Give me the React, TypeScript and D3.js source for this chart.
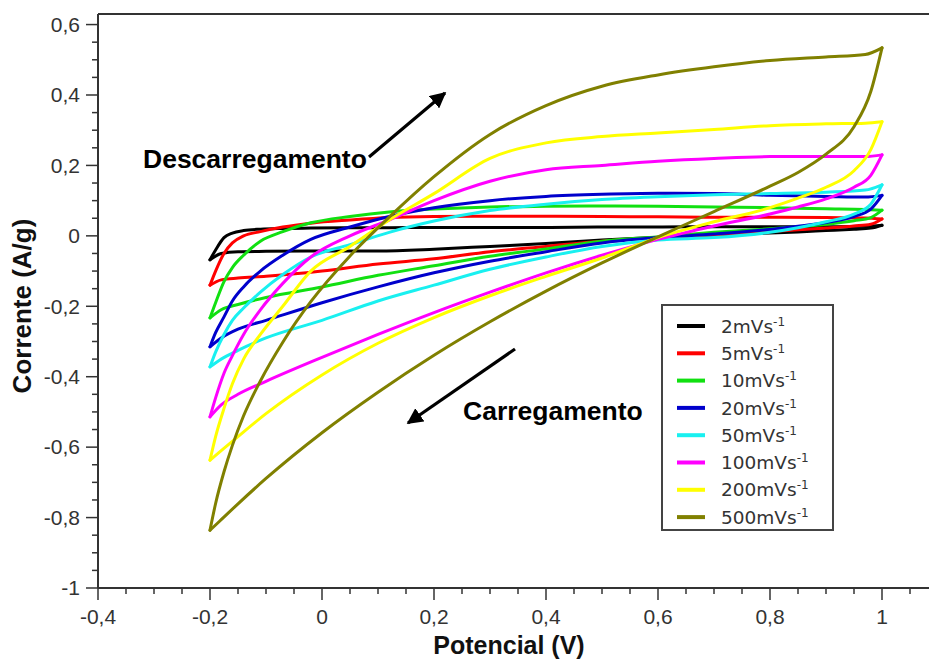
import React from 'react';
import * as d3 from 'd3';

// potentials (V) sampled along each branch
const potUp = [-0.2, -0.19, -0.175, -0.16, -0.14, -0.11, -0.07, -0.02, 0.05, 0.12, 0.2, 0.3, 0.4, 0.5, 0.6, 0.7, 0.8, 0.9, 0.97, 1.0];
const potDown = [-0.2, -0.18, -0.15, -0.1, 0, 0.1, 0.2, 0.3, 0.4, 0.5, 0.6, 0.7, 0.8, 0.85, 0.9, 0.95, 0.98, 1.0];

const scanRates = ['2', '5', '10', '20', '50', '100', '200', '500'];
const colors = ['#000000', '#ff0000', '#11e011', '#0000cc', '#19f0f0', '#ff00ff', '#ffff00', '#808000'];

// discharge (upper) branches, A/g
const up2 = [-0.068, -0.04, -0.005, 0.008, 0.015, 0.019, 0.021, 0.022, 0.023, 0.023, 0.024, 0.024, 0.024, 0.025, 0.025, 0.026, 0.026, 0.026, 0.027, 0.03];
const up5 = [-0.14, -0.1, -0.05, -0.02, 0.0, 0.012, 0.025, 0.036, 0.045, 0.052, 0.055, 0.056, 0.056, 0.055, 0.054, 0.053, 0.053, 0.052, 0.051, 0.048];
const up10 = [-0.233, -0.19, -0.13, -0.09, -0.055, -0.015, 0.012, 0.037, 0.055, 0.068, 0.076, 0.082, 0.084, 0.085, 0.084, 0.082, 0.08, 0.077, 0.075, 0.073];
const up20 = [-0.315, -0.275, -0.23, -0.185, -0.145, -0.1, -0.055, -0.01, 0.025, 0.055, 0.08, 0.1, 0.112, 0.118, 0.121, 0.12, 0.115, 0.112, 0.11, 0.115];
const up50 = [-0.372, -0.33, -0.28, -0.24, -0.205, -0.16, -0.11, -0.06, -0.025, 0.01, 0.042, 0.072, 0.09, 0.103, 0.111, 0.117, 0.12, 0.124, 0.13, 0.145];
const up100 = [-0.514, -0.46, -0.39, -0.34, -0.28, -0.21, -0.135, -0.06, 0.0, 0.045, 0.1, 0.155, 0.188, 0.2, 0.212, 0.22, 0.225, 0.225, 0.225, 0.23];
const up200 = [-0.637, -0.57, -0.49, -0.42, -0.35, -0.28, -0.2, -0.1, -0.03, 0.045, 0.12, 0.22, 0.264, 0.282, 0.292, 0.302, 0.313, 0.318, 0.32, 0.324];
const up500 = [-0.836, -0.76, -0.67, -0.595, -0.511, -0.412, -0.302, -0.187, -0.057, 0.053, 0.168, 0.288, 0.37, 0.425, 0.457, 0.48, 0.498, 0.508, 0.515, 0.534];

// charge (lower) branches, A/g
const down2 = [-0.068, -0.05, -0.045, -0.044, -0.043, -0.043, -0.038, -0.03, -0.022, -0.012, -0.004, 0.002, 0.008, 0.011, 0.015, 0.019, 0.022, 0.03];
const down5 = [-0.14, -0.125, -0.12, -0.115, -0.1, -0.08, -0.065, -0.045, -0.03, -0.015, -0.005, 0.003, 0.012, 0.017, 0.022, 0.028, 0.033, 0.048];
const down10 = [-0.233, -0.21, -0.195, -0.175, -0.145, -0.112, -0.085, -0.058, -0.037, -0.015, -0.003, 0.01, 0.02, 0.026, 0.033, 0.043, 0.052, 0.073];
const down20 = [-0.315, -0.29, -0.265, -0.24, -0.19, -0.145, -0.105, -0.072, -0.045, -0.02, -0.005, 0.005, 0.018, 0.027, 0.038, 0.055, 0.076, 0.115];
const down50 = [-0.372, -0.35, -0.325, -0.29, -0.24, -0.185, -0.14, -0.095, -0.06, -0.03, -0.012, -0.005, 0.01, 0.023, 0.04, 0.062, 0.09, 0.145];
const down100 = [-0.514, -0.48, -0.45, -0.413, -0.345, -0.28, -0.218, -0.16, -0.105, -0.055, -0.01, 0.028, 0.062, 0.082, 0.105, 0.138, 0.172, 0.23];
const down200 = [-0.637, -0.61, -0.57, -0.505, -0.395, -0.305, -0.232, -0.17, -0.115, -0.063, -0.005, 0.04, 0.08, 0.107, 0.138, 0.185, 0.245, 0.324];
const down500 = [-0.836, -0.806, -0.761, -0.689, -0.559, -0.444, -0.339, -0.244, -0.157, -0.077, -0.003, 0.069, 0.141, 0.18, 0.232, 0.31, 0.41, 0.534];

const ups = [up2, up5, up10, up20, up50, up100, up200, up500];
const downs = [down2, down5, down10, down20, down50, down100, down200, down500];

const xMajor = [-0.4, -0.2, 0, 0.2, 0.4, 0.6, 0.8, 1];
const yMajor = [-1, -0.8, -0.6, -0.4, -0.2, 0, 0.2, 0.4, 0.6];

const fmt = (v: number) => String(+v.toFixed(2)).replace('.', ',');

export default function App() {
  const width = 929;
  const height = 660;
  const x = d3.scaleLinear().domain([-0.4, 1.1]).range([98, 938]);
  const y = d3.scaleLinear().domain([-1, 0.63]).range([588, 14]);
  const x0 = x(-0.4);
  const y0 = y(-1);

  const xMinor = d3.range(-0.4, 1.08, 0.05).map(v => +v.toFixed(2));
  const yMinor = d3.range(-1, 0.61, 0.05).map(v => +v.toFixed(2));

  const line = d3.line<[number, number]>()
    .x(d => x(d[0]))
    .y(d => y(d[1]))
    .curve(d3.curveMonotoneX);

  const axisColor = '#333';
  const tickFont = 'Liberation Sans, Arial, sans-serif';

  return (
    <div>
      <style>{'body{margin:0}'}</style>
      <svg width={width} height={height} style={{ display: 'block', background: '#fff' }}>
        <defs>
          <marker id="head" viewBox="0 0 10 10" refX="9" refY="5" markerWidth="5" markerHeight="5" orient="auto">
            <path d="M0,0 L10,5 L0,10 z" fill="#000" />
          </marker>
        </defs>

        {/* curves */}
        <g fill="none" strokeWidth={3} strokeLinejoin="round" strokeLinecap="round">
          {ups.map((u, i) => (
            <g key={scanRates[i]} stroke={colors[i]}>
              <path d={line(potUp.map((p, j) => [p, u[j]]) as [number, number][]) || ''} />
              <path d={line(potDown.map((p, j) => [p, downs[i][j]]) as [number, number][]) || ''} />
            </g>
          ))}
        </g>

        {/* axes frame */}
        <g stroke={axisColor} strokeWidth={2} fill="none">
          <line x1={x0} y1={y(0.63)} x2={width} y2={y(0.63)} />
          <line x1={x0} y1={y(0.63)} x2={x0} y2={y0} />
          <line x1={x0} y1={y0} x2={width} y2={y0} />
        </g>

        {/* ticks */}
        <g stroke={axisColor} strokeWidth={1.5}>
          {yMinor.map(v => {
            const major = yMajor.some(m => Math.abs(m - v) < 1e-6);
            return <line key={'ym' + v} x1={x0 - (major ? 12 : 6)} x2={x0} y1={y(v)} y2={y(v)} />;
          })}
          {xMinor.map(v => {
            const major = xMajor.some(m => Math.abs(m - v) < 1e-6);
            return <line key={'xm' + v} x1={x(v)} x2={x(v)} y1={y0} y2={y0 + (major ? 12 : 6)} />;
          })}
        </g>
        <g fill={axisColor} fontFamily={tickFont} fontSize={21}>
          {yMajor.map(v => (
            <text key={'yl' + v} x={x0 - 18} y={y(v)} dy="0.35em" textAnchor="end">{fmt(v)}</text>
          ))}
          {xMajor.map(v => (
            <text key={'xl' + v} x={x(v)} y={y0 + 36} textAnchor="middle">{fmt(v)}</text>
          ))}
        </g>

        {/* axis titles */}
        <text x={509} y={654} textAnchor="middle" fontFamily={tickFont} fontWeight="bold" fontSize={25} fill="#111">Potencial (V)</text>
        <text transform={`translate(31,${306}) rotate(-90)`} textAnchor="middle" fontFamily={tickFont} fontWeight="bold" fontSize={26} fill="#111">Corrente (A/g)</text>

        {/* annotations */}
        <text x={143} y={168} fontFamily={tickFont} fontWeight="bold" fontSize={26.5} fill="#000">Descarregamento</text>
        <line x1={369} y1={157} x2={445} y2={93} stroke="#000" strokeWidth={3.2} markerEnd="url(#head)" />
        <text x={463} y={420} fontFamily={tickFont} fontWeight="bold" fontSize={26.5} fill="#000">Carregamento</text>
        <line x1={515} y1={349} x2={408} y2={423} stroke="#000" strokeWidth={3.2} markerEnd="url(#head)" />

        {/* legend */}
        <rect x={662} y={305} width={171} height={225} fill="#fff" stroke="#444" strokeWidth={2} />
        {scanRates.map((r, i) => {
          const ly = 326 + i * 27.3;
          return (
            <g key={'lg' + r}>
              <line x1={677} x2={705} y1={ly} y2={ly} stroke={colors[i]} strokeWidth={4} />
              <text x={721} y={ly} dy="0.36em" fontFamily="DejaVu Sans, sans-serif" fontSize={18.5} fill="#333">
                {r}mVs<tspan fontSize={12} dy={-7}>-1</tspan>
              </text>
            </g>
          );
        })}
      </svg>
    </div>
  );
}
